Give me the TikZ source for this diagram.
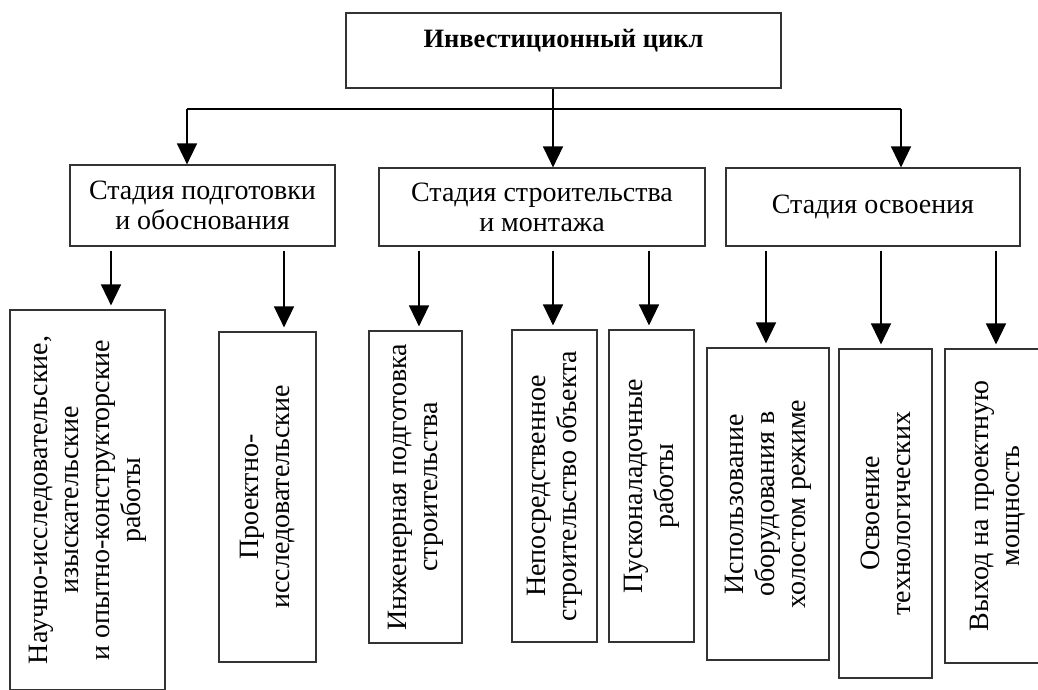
\documentclass[tikz,border=0pt]{standalone}
\usepackage{fontspec}
\setmainfont{Liberation Serif}
\usetikzlibrary{arrows.meta,positioning}
\tikzset{
  box/.style={draw=black!80, line width=1.2pt, align=center, inner sep=0pt,
    font=\fontsize{28}{30}\selectfont},
  vbox/.style={box, rotate=90, font=\fontsize{28}{31}\selectfont},
  link/.style={line width=1.5pt},
  arr/.style={link, -{Triangle[width=20pt,length=21pt]}},
}
\begin{document}
\begin{tikzpicture}[x=1pt, y=-1pt]
  \useasboundingbox (0,0) rectangle (1038,689);
  \fill[white] (0,0) rectangle (1038,689);
  \clip (0,0) rectangle (1038,689);

  % top
  \node[box, minimum width=435pt, text height=34pt, text depth=41pt,
    font=\fontsize{26.5}{30}\selectfont\bfseries] (cycle) at (563.5,50.5) {Инвестиционный цикл};

  % stages
  \node[box, minimum width=265pt, minimum height=81pt] (prep) at (202.5,205.5) {Стадия подготовки\\и обоснования};
  \node[box, minimum width=326pt, minimum height=78pt] (build) at (542,207) {Стадия строительства\\и монтажа};
  \node[box, minimum width=294pt, minimum height=78pt] (run) at (873,207) {Стадия освоения};

  % works (rotated: east is the top side)
  \node[vbox, minimum width=380pt, minimum height=155pt] (research) at (87.5,500)
    {Научно-исследовательские,\\изыскательские\\и опытно-конструкторские\\работы};
  \node[vbox, minimum width=330pt, minimum height=97pt] (design) at (267.5,497)
    {Проектно-\\исследовательские};
  \node[vbox, minimum width=312pt, minimum height=93pt] (engineer) at (415.5,487)
    {Инженерная подготовка\\строительства};
  \node[vbox, minimum width=312pt, minimum height=85pt] (object) at (554.5,486)
    {Непосредственное\\строительство объекта};
  \node[vbox, minimum width=312pt, minimum height=85pt] (launch) at (651.5,486)
    {Пусконаладочные\\работы};
  \node[vbox, minimum width=312pt, minimum height=122pt] (idle) at (768,504)
    {Использование\\оборудования в\\холостом режиме};
  \node[vbox, minimum width=329pt, minimum height=93pt] (tech) at (885.5,513.5)
    {Освоение\\технологических};
  \node[vbox, minimum width=314pt, minimum height=106pt] (power) at (998,506)
    {Выход на проектную\\мощность};

  % bus
  \coordinate (bus) at (553,109);
  \coordinate (busL) at (187,109);
  \coordinate (busR) at (901,109);
  \draw[link] (cycle.south -| bus) -- (bus);
  \draw[link] (busL) -- (busR);
  \draw[arr] (busL) -- (prep.north -| busL);
  \draw[arr] (bus) -- (build.north -| bus);
  \draw[arr] (busR) -- (run.north -| busR);

  \foreach \s/\t/\x in {prep/research/111, prep/design/284,
      build/engineer/419, build/object/553, build/launch/649,
      run/idle/766, run/tech/881, run/power/996}
    \draw[arr, shorten <=4pt, shorten >=4pt] (\s.south -| \x,0) -- (\t.east -| \x,0);
\end{tikzpicture}
\end{document}
